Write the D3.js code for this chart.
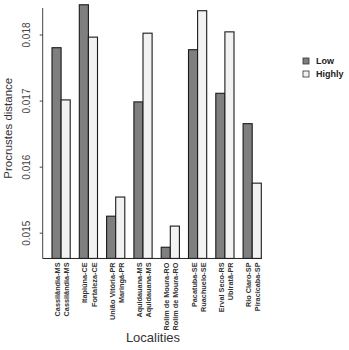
<!DOCTYPE html>
<html>
<head>
<meta charset="utf-8">
<script src="https://cdn.jsdelivr.net/npm/d3@7"></script>
<style>
  body { margin: 0; background: #fff; }
  text { font-family: "Liberation Sans", Arial, sans-serif; }
</style>
</head>
<body>
<div id="chart"></div>
<script>
(function () {

  // Datos
  const groups = ['Cassilandia', 'Itapiuna/Fortaleza', 'Uniao/Maringa', 'Aquidauana', 'Rolim', 'Pacatuba/Ruachuelo', 'Erval/Ubirata', 'RioClaro/Piracicaba']
  const lowLabels = ['Cassilândia-MS', 'Itapiúna-CE', 'União Vitória-PR', 'Aquidauana-MS', 'Rolim de Moura-RO', 'Pacatuba-SE', 'Erval Seco-RS', 'Rio Claro-SP']
  const highLabels = ['Cassilândia-MS', 'Fortaleza-CE', 'Maringá-PR', 'Aquidauana-MS', 'Rolim de Moura-RO', 'Ruachuelo-SE', 'Ubiratã-PR', 'Piracicaba-SP']
  const lowValues = [0.01780, 0.01845, 0.01525, 0.01698, 0.01478, 0.01777, 0.01711, 0.01665]
  const highValues = [0.01701, 0.01796, 0.01554, 0.01802, 0.01510, 0.01836, 0.01804, 0.01575]
  const series = ['Low', 'Highly']
  const tickValues = [0.015, 0.016, 0.017, 0.018]
  const baseValue = 0.01461
  const axisTop = 0.0184

  const width = 349
  const height = 350

  const color = d3.scaleOrdinal().domain(series).range(['#7f7f7f', '#f2f2f2'])

  const svg = d3.select('#chart').append('svg')
    .attr('width', width)
    .attr('height', height)

  // Escalas
  const x0 = d3.scaleBand()
    .domain(d3.range(groups.length))
    .range([52, 261.3])
    .paddingInner(1 / 3)
    .paddingOuter(0)

  const x1 = d3.scaleBand()
    .domain(series)
    .range([0, x0.bandwidth()])

  const y = d3.scaleLinear()
    .domain([0.015, 0.018])
    .range([232.7, 34.5])

  const data = groups.map((g, i) => ({
    group: i,
    bars: [
      { key: 'Low', value: lowValues[i], label: lowLabels[i] },
      { key: 'Highly', value: highValues[i], label: highLabels[i] }
    ]
  }))

  // Barras
  const gGroups = svg.append('g')
    .selectAll('g')
    .data(data)
    .join('g')
    .attr('transform', d => `translate(${x0(d.group)},0)`)

  gGroups.selectAll('rect')
    .data(d => d.bars)
    .join('rect')
    .attr('x', d => x1(d.key))
    .attr('y', d => y(d.value))
    .attr('width', x1.bandwidth())
    .attr('height', d => y(baseValue) - y(d.value))
    .attr('fill', d => color(d.key))
    .attr('stroke', '#1a1a1a')
    .attr('stroke-width', 1.1)

  // Etiquetas de las barras
  gGroups.selectAll('text')
    .data(d => d.bars)
    .join('text')
    .attr('transform', d => `translate(${x1(d.key) + x1.bandwidth() / 2 + 1},${y(baseValue) + 4}) rotate(-90)`)
    .attr('text-anchor', 'end')
    .attr('dy', '0.35em')
    .attr('font-size', 7.3)
    .attr('font-weight', 'bold')
    .attr('fill', '#333')
    .text(d => d.label)

  // Linea base
  svg.append('line')
    .attr('x1', 42.7).attr('x2', x0.range()[1])
    .attr('y1', y(baseValue)).attr('y2', y(baseValue))
    .attr('stroke', '#222')

  // Eje Y
  const yAxis = svg.append('g')
    .attr('transform', 'translate(42.7,0)')
    .call(d3.axisLeft(y).tickValues(tickValues).tickSize(3).tickFormat(d3.format('.3f')))

  yAxis.select('.domain').remove()
  yAxis.selectAll('.tick line').attr('stroke', '#444')
  yAxis.selectAll('.tick text')
    .attr('transform', 'rotate(-90)')
    .attr('x', 0)
    .attr('y', -13)
    .attr('dy', 0)
    .attr('text-anchor', 'middle')
    .attr('font-size', 10)
    .attr('font-family', '"Liberation Sans", Arial, sans-serif')
    .attr('fill', '#444')

  svg.append('line')
    .attr('x1', 42.7).attr('x2', 42.7)
    .attr('y1', y(axisTop)).attr('y2', y(baseValue))
    .attr('stroke', '#444')

  // Titulos de ejes
  svg.append('text')
    .attr('transform', `translate(12,${(y(axisTop) + y(baseValue)) / 2 - 5}) rotate(-90)`)
    .attr('text-anchor', 'middle')
    .attr('font-size', 11.5)
    .attr('fill', '#333')
    .text('Procrustes distance')

  svg.append('text')
    .attr('x', 153)
    .attr('y', 342)
    .attr('text-anchor', 'middle')
    .attr('font-size', 13)
    .attr('fill', '#333')
    .text('Localities')

  // Leyenda
  const legend = svg.append('g')
    .selectAll('g')
    .data(series)
    .join('g')
    .attr('transform', (d, i) => `translate(303,${58 + i * 13})`)

  legend.append('rect')
    .attr('width', 6)
    .attr('height', 6)
    .attr('fill', d => color(d))
    .attr('stroke', '#333')
    .attr('stroke-width', 0.8)

  legend.append('text')
    .attr('x', 13)
    .attr('y', 6)
    .attr('font-size', 9)
    .attr('font-weight', 'bold')
    .attr('fill', '#222')
    .text(d => d)

})()
</script>
</body>
</html>
